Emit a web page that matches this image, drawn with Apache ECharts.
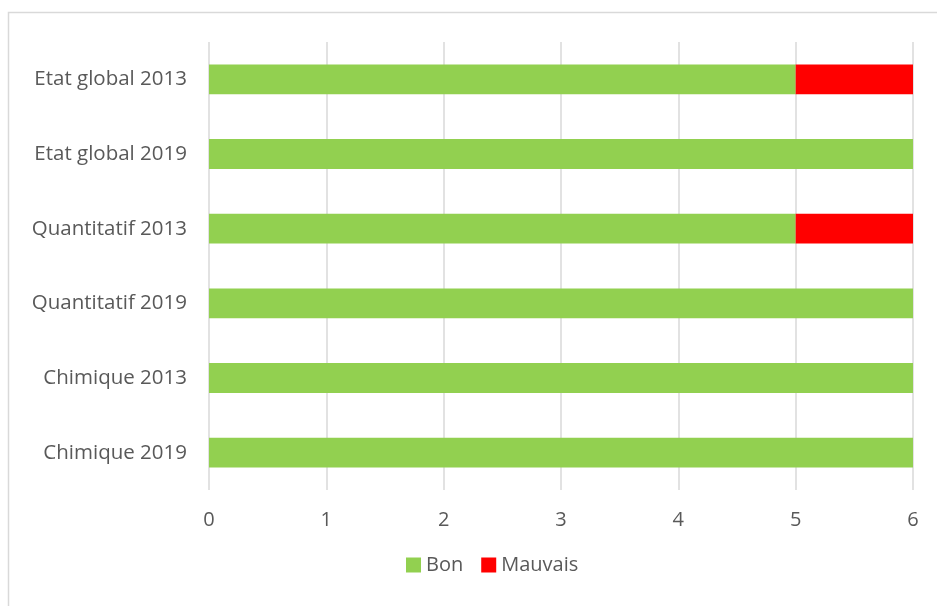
<!DOCTYPE html>
<html><head><meta charset="utf-8">
<script src="https://cdn.jsdelivr.net/npm/echarts@6/dist/echarts.min.js"></script>
<style>html,body{margin:0;padding:0;background:#fff}#c{width:937px;height:606px}</style>
</head><body><div id="c"></div>
<script>
const categories = ['Etat global 2013','Etat global 2019','Quantitatif 2013','Quantitatif 2019','Chimique 2013','Chimique 2019'];
const bonValues = [5,6,5,6,6,6];
const mauvaisValues = [1,0,1,0,0,0];
const xTicks = [0,1,2,3,4,5,6];
const FONT = 'Open Sans';
const chart = echarts.init(document.getElementById('c'), null, {renderer:'canvas'});
chart.setOption({
  animation:false,
  backgroundColor:'#fff',
  textStyle:{fontFamily:FONT},
  graphic:[{type:'rect',shape:{x:8.5,y:12.5,width:940,height:600},style:{fill:'none',stroke:'#d9d9d9',lineWidth:1.5},silent:true}],
  grid:{left:209,right:24,top:42,bottom:116,containLabel:false},
  xAxis:{type:'value',min:xTicks[0],max:xTicks[xTicks.length-1],interval:1,
    axisLine:{show:false},axisTick:{show:false},
    splitLine:{lineStyle:{color:'#d9d9d9',width:1.5}},
    axisLabel:{color:'#595959',fontSize:20,margin:20,fontFamily:FONT}},
  yAxis:{type:'category',data:categories,inverse:true,
    axisLine:{show:false},axisTick:{show:false},
    axisLabel:{color:'#595959',fontSize:20.5,margin:22,fontFamily:FONT}},
  legend:{top:550,left:401,itemWidth:15,itemHeight:15,itemGap:18,
    icon:'rect',textStyle:{color:'#595959',fontSize:20,fontFamily:FONT},
    data:['Bon','Mauvais']},
  series:[
    {name:'Bon',type:'bar',stack:'s',data:bonValues,barCategoryGap:'60%',itemStyle:{color:'#92d050'}},
    {name:'Mauvais',type:'bar',stack:'s',data:mauvaisValues,barCategoryGap:'60%',itemStyle:{color:'#ff0000'}}
  ]
});
</script></body></html>
